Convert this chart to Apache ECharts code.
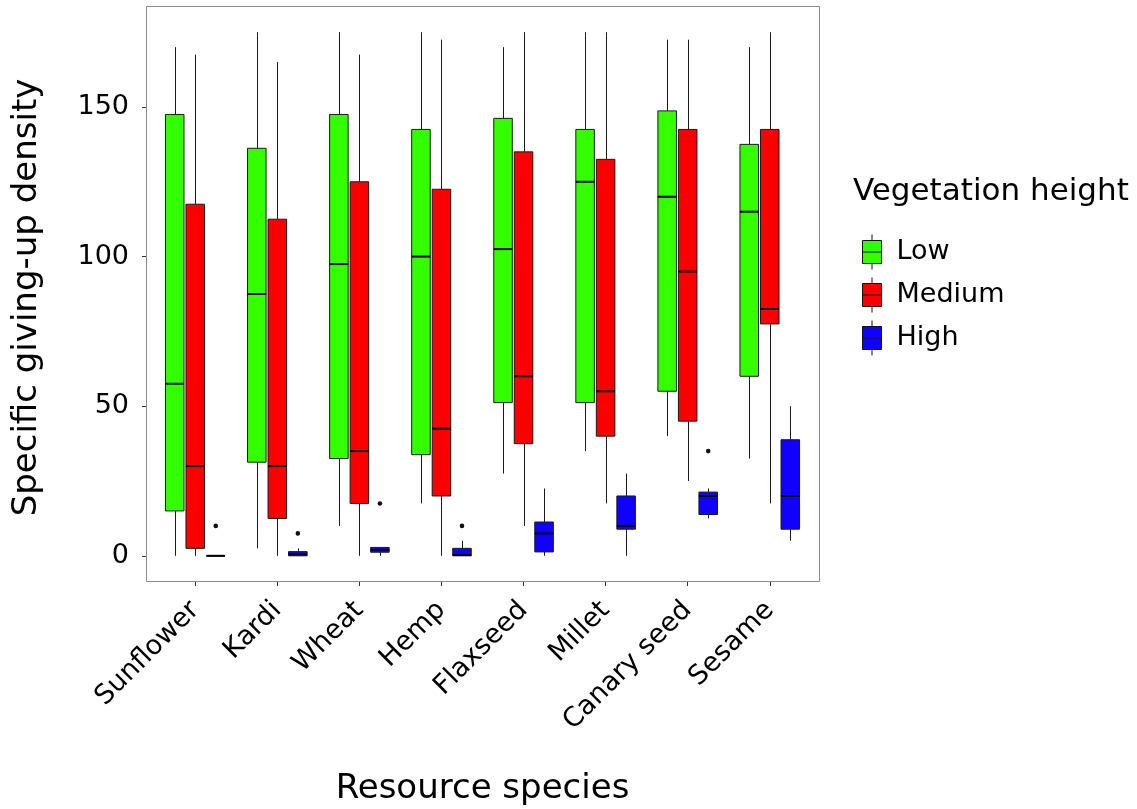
<!DOCTYPE html>
<html>
<head>
<meta charset="utf-8">
<script src="https://cdn.jsdelivr.net/npm/echarts@6/dist/echarts.min.js"></script>
<style>
  html, body { margin: 0; padding: 0; background: #fff; }
  #chart { width: 1137px; height: 809px; }
</style>
</head>
<body>
<div id="chart"></div>
<script>
// Resource species on the x axis
const categories = ['Sunflower', 'Kardi', 'Wheat', 'Hemp', 'Flaxseed', 'Millet', 'Canary seed', 'Sesame'];

// Box statistics per species: [lower whisker, Q1, median, Q3, upper whisker]
const lowStats = [
  [0, 15, 57.5, 147.5, 170],
  [2.5, 31.3, 87.5, 136.2, 175],
  [10, 32.5, 97.5, 147.5, 175],
  [17.5, 33.8, 100, 142.5, 175],
  [27.5, 51.2, 102.5, 146.2, 170],
  [35, 51.2, 125, 142.5, 175],
  [40, 55, 120, 148.7, 172.5],
  [32.5, 60, 115, 137.5, 170]
];
const mediumStats = [
  [0, 2.5, 30, 117.5, 167.5],
  [0, 12.5, 30, 112.5, 165],
  [0, 17.5, 35, 125, 167.5],
  [0, 20, 42.5, 122.5, 172.5],
  [10, 37.5, 60, 135, 175],
  [17.5, 40, 55, 132.5, 175],
  [25, 45, 95, 142.5, 172.5],
  [17.5, 77.5, 82.5, 142.5, 175]
];
const highStats = [
  [0, 0, 0, 0, 0],
  [0, 0, 0.5, 1.4, 2.5],
  [0, 1.2, 2.0, 2.8, 2.8],
  [0, 0, 0.3, 2.5, 5],
  [0, 1.3, 7.5, 11.3, 22.5],
  [0, 8.9, 10, 20, 27.5],
  [12.5, 13.8, 20, 21.3, 22.5],
  [5, 8.9, 20, 38.8, 50]
];

// Outlying observations: [species index, value]
const highOutliers = [[0, 10], [1, 7.5], [2, 17.5], [3, 10], [6, 35]];

const groupNames = ['Low', 'Medium', 'High'];
const groupColors = ['#33ff00', '#fa0000', '#1000ff'];
const yTicks = [0, 50, 100, 150];

const FONT = '"DejaVu Sans", sans-serif';
const DODGE = 0.25;     // centre spacing between dodged boxes, as a fraction of the band
const BOX_W = 0.226;    // box width, as a fraction of the band
const EDGE = '#1a1a1a';

function withIndex(stats) {
  return stats.map((s, i) => [i].concat(s));
}

function boxRenderer(slot, color) {
  return function (params, api) {
    const cat = api.value(0);
    const band = api.size([1, 0])[0];
    const cx = api.coord([cat, 0])[0] + slot * band * DODGE;
    const wx = Math.round(cx) + 0.5;   // crisp 1px whisker
    const half = band * BOX_W / 2;
    const y = k => api.coord([cat, api.value(k)])[1];
    const yMin = y(1), yQ1 = y(2), yMed = y(3), yQ3 = y(4), yMax = y(5);
    return {
      type: 'group',
      children: [
        { type: 'line', shape: { x1: wx, y1: yQ3, x2: wx, y2: yMax },
          style: { stroke: EDGE, lineWidth: 1 } },
        { type: 'line', shape: { x1: wx, y1: yQ1, x2: wx, y2: yMin },
          style: { stroke: EDGE, lineWidth: 1 } },
        { type: 'rect', shape: { x: cx - half, y: yQ3, width: half * 2, height: yQ1 - yQ3 },
          style: { fill: color, stroke: EDGE, lineWidth: 1 } },
        { type: 'line', shape: { x1: cx - half, y1: yMed, x2: cx + half, y2: yMed },
          style: { stroke: '#000', lineWidth: 2 } }
      ]
    };
  };
}

function outlierRenderer(slot) {
  return function (params, api) {
    const cat = api.value(0);
    const band = api.size([1, 0])[0];
    const p = api.coord([cat, api.value(1)]);
    return {
      type: 'circle',
      shape: { cx: p[0] + slot * band * DODGE, cy: p[1], r: 2.3 },
      style: { fill: '#111' }
    };
  };
}

const statsList = [lowStats, mediumStats, highStats];
const series = groupNames.map((name, g) => ({
  name: name,
  type: 'custom',
  xAxisIndex: 0,
  yAxisIndex: 0,
  itemStyle: { color: groupColors[g] },
  encode: { x: 0, y: [1, 2, 3, 4, 5] },
  data: withIndex(statsList[g]),
  renderItem: boxRenderer(g - 1, groupColors[g]),
  z: 2
}));
series.push({
  name: 'High outliers',
  type: 'custom',
  xAxisIndex: 0,
  yAxisIndex: 0,
  encode: { x: 0, y: 1 },
  data: highOutliers,
  renderItem: outlierRenderer(1),
  z: 3
});

// Panel geometry: discrete axis expanded by 0.6 of a category on each side
const PANEL = { left: 146, top: 6, width: 673, height: 576 };
const band = PANEL.width / (categories.length - 1 + 1.2);
const gridLeft = PANEL.left + 0.1 * band;
const gridWidth = band * categories.length;
const yMin = -8.75, yMax = 183.75;

const keyPath = 'path://M9.5,0 L9.5,6 M0,6 L19,6 L19,29 L0,29 Z M0,17.5 L19,17.5 M9.5,29 L9.5,35';

const option = {
  animation: false,
  backgroundColor: '#ffffff',
  grid: [{ left: gridLeft, top: PANEL.top, width: gridWidth, height: PANEL.height, show: false }],
  xAxis: [{
    type: 'category',
    data: categories,
    boundaryGap: true,
    axisLine: { show: false, onZero: false },
    axisTick: { show: true, alignWithLabel: true, length: 4, lineStyle: { color: '#333', width: 1 } },
    axisLabel: {
      interval: 0, rotate: 45, align: 'right', verticalAlign: 'middle', margin: 24,
      fontFamily: FONT, fontSize: 27, color: '#000'
    },
    splitLine: { show: false }
  }],
  yAxis: [{
    type: 'value',
    min: yMin,
    max: yMax,
    offset: gridLeft - PANEL.left,
    axisLine: { show: false, onZero: false },
    axisTick: { show: true, length: 4, customValues: yTicks, lineStyle: { color: '#333', width: 1 } },
    axisLabel: { customValues: yTicks, margin: 17, fontFamily: FONT, fontSize: 27, color: '#000' },
    splitLine: { show: false }
  }],
  legend: {
    orient: 'vertical',
    left: 857,
    top: 229,
    itemWidth: 19,
    itemHeight: 35,
    itemGap: 7,
    data: groupNames.map(n => ({ name: n, icon: keyPath })),
    itemStyle: { borderColor: '#111', borderWidth: 1 },
    textStyle: { fontFamily: FONT, fontSize: 27, color: '#000', padding: [0, 0, 0, 10] },
    selectedMode: false
  },
  graphic: [
    {
      type: 'rect', silent: true, z: 0,
      shape: { x: PANEL.left + 0.5, y: PANEL.top + 0.5, width: PANEL.width, height: PANEL.height - 1 },
      style: { fill: 'none', stroke: '#8c8c8c', lineWidth: 1 }
    },
    {
      type: 'text', silent: true, x: (PANEL.left + PANEL.left + PANEL.width) / 2, y: 789,
      style: { text: 'Resource species', font: '34px ' + FONT, fill: '#000', align: 'center', verticalAlign: 'middle' }
    },
    {
      type: 'text', silent: true, x: 27, y: 297.5, rotation: Math.PI / 2,
      style: { text: 'Specific giving-up density', font: '34px ' + FONT, fill: '#000', align: 'center', verticalAlign: 'middle' }
    },
    {
      type: 'text', silent: true, x: 853, y: 192,
      style: { text: 'Vegetation height', font: '31px ' + FONT, fill: '#000', align: 'left', verticalAlign: 'middle' }
    }
  ],
  series: series
};

const chart = echarts.init(document.getElementById('chart'), null, { renderer: 'canvas' });
chart.setOption(option);
</script>
</body>
</html>
